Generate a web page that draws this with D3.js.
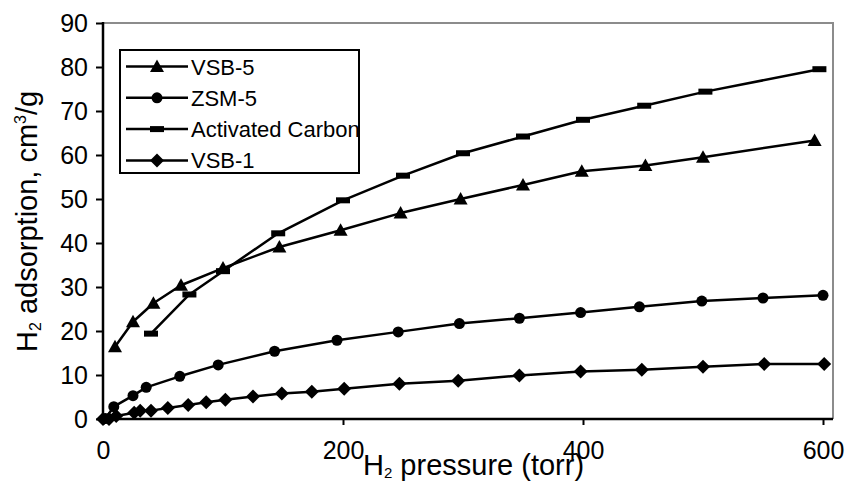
<!DOCTYPE html>
<html>
<head>
<meta charset="utf-8">
<script src="https://cdn.jsdelivr.net/npm/d3@7"></script>
<style>
  body { margin: 0; background: #fff; }
  svg { display: block; font-family: "Liberation Sans", Arial, sans-serif; }
</style>
</head>
<body>
<svg width="846" height="481"></svg>
<script>
// H2 uptake vs pressure for the four sorbents
var vsb5X = [10, 25, 42, 65, 100, 147, 198, 248, 298, 350, 399, 452, 500, 593];
var vsb5Y = [16.4, 22.1, 26.3, 30.4, 34.3, 39.1, 42.9, 46.8, 50.0, 53.2, 56.3, 57.6, 59.5, 63.3];

var zsm5X = [2, 9, 25, 36, 64, 96, 143, 195, 246, 297, 347, 398, 447, 499, 550, 600];
var zsm5Y = [0.1, 2.8, 5.3, 7.2, 9.7, 12.3, 15.4, 17.9, 19.8, 21.7, 22.9, 24.2, 25.5, 26.8, 27.5, 28.1];

var carbonX = [40, 72, 100, 146, 200, 250, 300, 350, 400, 451, 502, 597];
var carbonY = [19.4, 28.3, 33.6, 42.2, 49.7, 55.3, 60.4, 64.2, 68.0, 71.2, 74.4, 79.5];

var vsb1X = [0, 5, 11, 26, 31, 40, 54, 71, 86, 102, 125, 149, 174, 201, 247, 296, 347, 398, 449, 500, 551, 601];
var vsb1Y = [0, 0, 0.7, 1.4, 1.9, 1.9, 2.5, 3.2, 3.8, 4.4, 5.1, 5.8, 6.2, 6.9, 8.0, 8.7, 9.9, 10.8, 11.2, 11.9, 12.5, 12.5];

var seriesNames = ["VSB-5", "ZSM-5", "Activated Carbon", "VSB-1"];
var xTicks = [0, 200, 400, 600];
var yTicks = [0, 10, 20, 30, 40, 50, 60, 70, 80, 90];

var series = [
  { name: seriesNames[0], marker: "triangle", xs: vsb5X, ys: vsb5Y },
  { name: seriesNames[1], marker: "circle", xs: zsm5X, ys: zsm5Y },
  { name: seriesNames[2], marker: "dash", xs: carbonX, ys: carbonY },
  { name: seriesNames[3], marker: "diamond", xs: vsb1X, ys: vsb1Y }
];
series.forEach(function (s) {
  s.points = s.xs.map(function (x, i) { return { x: x, y: s.ys[i] }; });
});

var svg = d3.select("svg");
var plotL = 103, plotR = 833, plotT = 23, plotB = 419;

var x = d3.scaleLinear().domain([0, 600]).range([plotL, 823]);
var y = d3.scaleLinear().domain([0, 90]).range([plotB, plotT]);

// plot frame: grey on top and right, black axes
svg.append("path")
  .attr("d", "M" + plotL + "," + plotT + "H" + plotR + "V" + plotB)
  .attr("fill", "none")
  .attr("stroke", "#8c8c8c")
  .attr("stroke-width", 2);

var yAxis = svg.append("g")
  .attr("transform", "translate(" + plotL + ",0)")
  .call(d3.axisLeft(y).tickValues(yTicks).tickSize(7).tickSizeOuter(0).tickPadding(8));
yAxis.select(".domain").remove();
yAxis.selectAll("line").attr("stroke", "#000").attr("stroke-width", 2);
yAxis.selectAll("text")
  .attr("font-size", 25)
  .attr("font-family", "Liberation Sans, Arial, sans-serif")
  .attr("fill", "#000");

var xAxis = svg.append("g")
  .attr("transform", "translate(0," + plotB + ")")
  .call(d3.axisBottom(x).tickValues(xTicks).tickSize(6).tickSizeOuter(0).tickPadding(16));
xAxis.select(".domain").remove();
xAxis.selectAll("line").attr("stroke", "#000").attr("stroke-width", 2);
xAxis.selectAll("text")
  .attr("font-size", 25)
  .attr("font-family", "Liberation Sans, Arial, sans-serif")
  .attr("fill", "#000");

svg.append("line")
  .attr("x1", plotL).attr("x2", plotL)
  .attr("y1", plotT - 1).attr("y2", plotB + 1)
  .attr("stroke", "#000").attr("stroke-width", 2.5);
svg.append("line")
  .attr("x1", plotL - 1).attr("x2", plotR)
  .attr("y1", plotB).attr("y2", plotB)
  .attr("stroke", "#000").attr("stroke-width", 2.5);

// marker drawing
function drawMarker(g, type) {
  if (type === "triangle") {
    g.append("path").attr("d", "M0,-7L7,5.5L-7,5.5Z").attr("fill", "#000");
  } else if (type === "circle") {
    g.append("circle").attr("r", 5.5).attr("fill", "#000");
  } else if (type === "dash") {
    g.append("rect").attr("x", -7).attr("y", -3).attr("width", 14).attr("height", 6).attr("fill", "#000");
  } else {
    g.append("path").attr("d", "M0,-7L7,0L0,7L-7,0Z").attr("fill", "#000");
  }
}

var line = d3.line()
  .x(function (d) { return x(d.x); })
  .y(function (d) { return y(d.y); });

var groups = svg.append("g")
  .selectAll("g")
  .data(series.slice().reverse())
  .enter()
  .append("g");

groups.append("path")
  .attr("d", function (d) { return line(d.points); })
  .attr("fill", "none")
  .attr("stroke", "#000")
  .attr("stroke-width", 2.5)
  .attr("stroke-linejoin", "round");

groups.each(function (s) {
  d3.select(this)
    .selectAll("g.pt")
    .data(s.points)
    .enter()
    .append("g")
    .attr("class", "pt")
    .attr("transform", function (d) {
      return "translate(" + x(d.x) + "," + y(d.y) + ")";
    })
    .each(function () { drawMarker(d3.select(this), s.marker); });
});

// legend
var legend = svg.append("g");
legend.append("rect")
  .attr("x", 120).attr("y", 50)
  .attr("width", 239).attr("height", 123)
  .attr("fill", "#fff")
  .attr("stroke", "#000")
  .attr("stroke-width", 2);

var rows = legend.selectAll("g.row")
  .data(series)
  .enter()
  .append("g")
  .attr("class", "row")
  .attr("transform", function (d, i) {
    return "translate(0," + (66.5 + i * 31.3) + ")";
  });
rows.append("line")
  .attr("x1", 126).attr("x2", 188)
  .attr("stroke", "#000").attr("stroke-width", 2.5);
rows.append("g")
  .attr("transform", "translate(157,0)")
  .each(function (d) { drawMarker(d3.select(this), d.marker); });
rows.append("text")
  .attr("x", 191)
  .attr("y", 8)
  .attr("font-size", 22)
  .text(function (d) { return d.name; });

// axis titles; the x title sits on top of the tick labels
var xTitle = svg.append("text")
  .attr("x", 363)
  .attr("y", 475)
  .attr("font-size", 29);
xTitle.append("tspan").text("H");
xTitle.append("tspan").attr("font-size", 15).attr("dy", 3).text("2");
xTitle.append("tspan").attr("dy", -3).text(" pressure (torr)");

var yTitle = svg.append("text")
  .attr("transform", "translate(37,352) rotate(-90)")
  .attr("font-size", 29);
yTitle.append("tspan").text("H");
yTitle.append("tspan").attr("font-size", 16).attr("dy", 4).text("2");
yTitle.append("tspan").attr("dy", -4).text(" adsorption, cm");
yTitle.append("tspan").attr("font-size", 16).attr("dy", -11).text("3");
yTitle.append("tspan").attr("dy", 11).text("/g");
</script>
</body>
</html>
